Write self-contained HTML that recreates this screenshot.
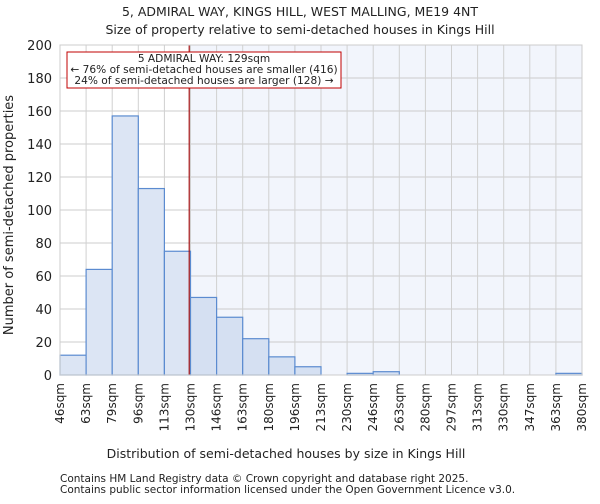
<!DOCTYPE html>
<html><head><meta charset="utf-8"><style>
body{margin:0;background:#fff;font-family:"DejaVu Sans","Liberation Sans",sans-serif;}
svg text{font-family:"DejaVu Sans","Liberation Sans",sans-serif;fill:#222;}
</style></head><body>
<svg id="chart" width="600" height="500">
<text x="300" y="16" font-size="12.5" text-anchor="middle">5, ADMIRAL WAY, KINGS HILL, WEST MALLING, ME19 4NT</text>
<text x="300" y="34" font-size="12.5" text-anchor="middle">Size of property relative to semi-detached houses in Kings Hill</text>
<g id="plot"></g>
<text x="286" y="458" font-size="12.5" text-anchor="middle">Distribution of semi-detached houses by size in Kings Hill</text>
<text transform="translate(13,215) rotate(-90)" font-size="13" text-anchor="middle">Number of semi-detached properties</text>
<text x="60" y="482" font-size="10.5" fill="#444">Contains HM Land Registry data © Crown copyright and database right 2025.</text>
<text x="60" y="493" font-size="10.5" fill="#444">Contains public sector information licensed under the Open Government Licence v3.0.</text>
</svg>
<script>
const edgeLabels=["46sqm","63sqm","79sqm","96sqm","113sqm","130sqm","146sqm","163sqm","180sqm","196sqm","213sqm","230sqm","246sqm","263sqm","280sqm","297sqm","313sqm","330sqm","347sqm","363sqm","380sqm"];
const counts=[12,64,157,113,75,47,35,22,11,5,0,1,2,0,0,0,0,0,0,1];
const yTicks=[0,20,40,60,80,100,120,140,160,180,200];
const propertyBin=4.95;
const ns="http://www.w3.org/2000/svg";
const g=document.getElementById('plot');
const L=60,R=582,T=45,B=375,yMax=200;
const bw=(R-L)/counts.length;
const xs=i=>L+i*bw;
const ys=v=>B-(v/yMax)*(B-T);
function mk(t,a){const e=document.createElementNS(ns,t);for(const k in a)e.setAttribute(k,a[k]);g.appendChild(e);return e;}
const px=xs(propertyBin);
let e=mk('rect',{x:px,y:T,width:R-px,height:B-T,fill:'#f2f5fc'});


yTicks.forEach(v=>{
 let l=mk('line',{x1:L,x2:R,y1:ys(v),y2:ys(v),stroke:'#cccccc','stroke-width':1});
 
 
 let t=mk('text',{x:L-8,y:ys(v)+5,'font-size':13,'text-anchor':'end'});
 t.textContent=v;
 
 
});
edgeLabels.forEach((s,i)=>{
 let l=mk('line',{x1:xs(i),x2:xs(i),y1:T,y2:B,stroke:'#d0d0d0','stroke-width':1});
 
 
 let t=mk('text',{x:0,y:0,'font-size':12,'text-anchor':'end',transform:`translate(${xs(i)+4},${B+8}) rotate(-90)`});
 t.textContent=s;
 
 
});
counts.forEach((c,i)=>{
 if(c<=0)return;
 let r=mk('rect',{x:xs(i),y:ys(c),width:bw,height:B-ys(c),fill:i<5?'#dce5f4':'#d5e0f2',stroke:'#5b8bd0','stroke-width':1.2});
 
 
});
e=mk('line',{x1:px,x2:px,y1:T,y2:B,stroke:'#a00000','stroke-width':1.1});


e=mk('rect',{x:67,y:52,width:274,height:36,fill:'#fff',stroke:'#c00000','stroke-width':1});


[["5 ADMIRAL WAY: 129sqm",62],["← 76% of semi-detached houses are smaller (416)",73],["24% of semi-detached houses are larger (128) →",84]].forEach(([s,y])=>{
 let t=mk('text',{x:204,y:y,'font-size':10.6,'text-anchor':'middle'});
 t.textContent=s;
 
 
});
e=mk('rect',{x:L,y:T,width:R-L,height:B-T,fill:'none',stroke:'#cccccc','stroke-width':1});


</script>
</body></html>
